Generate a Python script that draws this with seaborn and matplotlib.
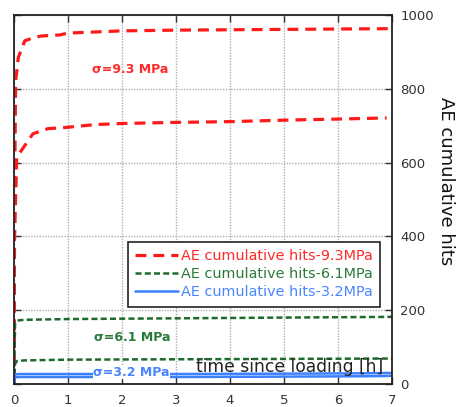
import matplotlib
matplotlib.use("Agg")
import matplotlib.pyplot as plt
from matplotlib.lines import Line2D
import seaborn as sns

sns.set_style("white")
plt.rcParams["font.family"] = ["DejaVu Sans"]

# time since loading [h] and cumulative AE hits, two specimens per stress level
t_93a = [0, 0.01, 0.03, 0.08, 0.2, 0.35, 0.5, 0.85, 1.0, 1.5, 2.0, 3.0, 4.0, 5.0, 6.0, 7.0]
h_93a = [0, 500, 820, 885, 930, 938, 943, 946, 951, 954, 957, 959, 960, 961, 962, 963]
t_93b = [0, 0.01, 0.05, 0.1, 0.17, 0.35, 0.63, 0.94, 1.5, 2.0, 3.0, 4.0, 5.0, 6.0, 6.9]
h_93b = [0, 400, 612, 625, 640, 678, 692, 695, 703, 706, 709, 711, 715, 718, 721]

t_61a = [0, 0.02, 0.05, 0.2, 1.0, 3.0, 5.0, 7.0]
h_61a = [0, 165, 172, 174, 176, 178, 180, 182]
t_61b = [0, 0.02, 0.05, 0.2, 1.0, 3.0, 5.0, 7.0]
h_61b = [0, 55, 62, 64, 66, 67, 68, 69]

t_32a = [0, 0.02, 0.1, 1.0, 3.0, 5.0, 6.5, 7.0]
h_32a = [0, 26, 27, 27, 27, 28, 29, 30]
t_32b = [0, 0.02, 0.1, 1.0, 3.0, 5.0, 6.5, 7.0]
h_32b = [0, 18, 19, 19, 19, 20, 21, 22]

legend_labels = ["AE cumulative hits-9.3MPa",
                 "AE cumulative hits-6.1MPa",
                 "AE cumulative hits-3.2MPa"]
stress_labels = ["σ=9.3 MPa", "σ=6.1 MPa", "σ=3.2 MPa"]
x_ticks = [0, 1, 2, 3, 4, 5, 6, 7]
y_ticks = [0, 200, 400, 600, 800, 1000]

red, green, blue = "#ff1a1a", "#1d6a2c", "#3b80ff"
red_txt, green_txt, blue_txt = "#ff2a2a", "#2b7a3c", "#4a86ff"

RED_DASH = (3.4, 2.2)
GREEN_DASH = (2.4, 1.3)

fig = plt.figure(figsize=(4.58, 4.07), dpi=100)
ax = fig.add_axes([14 / 458, 1 - 384 / 407, 378 / 458, 369 / 407])

styles = {
    "red": dict(color=red, linewidth=2.3, dashes=RED_DASH),
    "green": dict(color=green, linewidth=1.8, dashes=GREEN_DASH),
    "blue": dict(color=blue, linewidth=1.8),
}
for t, h, key in [(t_93a, h_93a, "red"), (t_93b, h_93b, "red"),
                  (t_61a, h_61a, "green"), (t_61b, h_61b, "green"),
                  (t_32a, h_32a, "blue"), (t_32b, h_32b, "blue")]:
    st = dict(styles[key])
    dashes = st.pop("dashes", None)
    sns.lineplot(x=t, y=h, ax=ax, estimator=None, sort=False, **st)
    if dashes is not None:
        ax.lines[-1].set_dashes(dashes)

ax.set_xlim(0, 7)
ax.set_ylim(0, 1000)
ax.set_xticks(x_ticks)
ax.set_yticks(y_ticks)
ax.grid(True, color="#b0b0b0", linestyle=(0, (1, 1)), linewidth=1)
for s in ax.spines.values():
    s.set_color("#222222")
    s.set_linewidth(1.3)

ax.yaxis.tick_right()
ax.yaxis.set_label_position("right")
ax.tick_params(axis="both", direction="in", length=5, width=1, color="#333333",
               top=True, bottom=True, left=True, right=True,
               labelsize=9.5, labelcolor="#333333")
ax.tick_params(axis="x", pad=7)
ax.tick_params(axis="y", pad=6)
ax.set_xlabel("")
ax.set_ylabel("AE cumulative hits", rotation=-90, fontsize=13,
              color="#111111", va="center", ha="center")
ax.yaxis.set_label_coords(1.143, 0.55)

ax.text(0.73, 0.045, "time since loading [h]", transform=ax.transAxes,
        ha="center", va="center", fontsize=12.3, color="#222222")

ax.text(2.15, 851, stress_labels[0], color=red_txt, fontsize=9,
        fontweight="bold", ha="center", va="center")
ax.text(2.19, 125, stress_labels[1], color=green_txt, fontsize=9,
        fontweight="bold", ha="center", va="center")
ax.text(2.17, 32, stress_labels[2], color=blue_txt, fontsize=9,
        fontweight="bold", ha="center", va="center",
        bbox=dict(facecolor="white", edgecolor="none", pad=0.3))

handles = [
    Line2D([], [], color=red, linewidth=2.3, dashes=RED_DASH),
    Line2D([], [], color=green, linewidth=1.8, dashes=GREEN_DASH),
    Line2D([], [], color=blue, linewidth=1.8),
]
leg = ax.legend(handles, legend_labels, loc="upper left",
                bbox_to_anchor=(0.301, 0.386), fontsize=10.4, frameon=True,
                fancybox=False, edgecolor="#222222", framealpha=1,
                borderpad=0.5, labelspacing=0.3, handlelength=3.0,
                handletextpad=0.2, borderaxespad=0)
leg.get_frame().set_linewidth(1.2)
for txt, c in zip(leg.get_texts(), [red_txt, green_txt, blue_txt]):
    txt.set_color(c)

fig.savefig("out.png", dpi=100)
